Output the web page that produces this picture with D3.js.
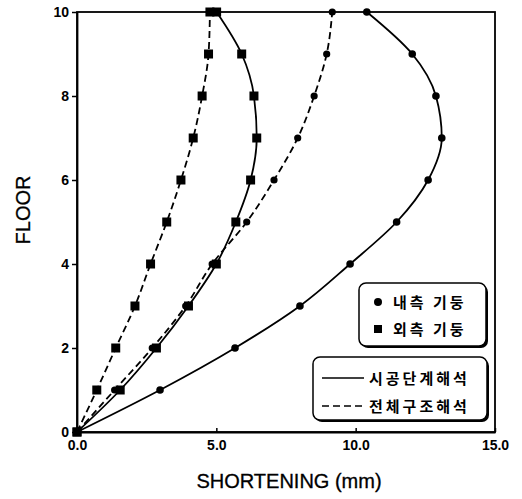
<!DOCTYPE html>
<html>
<head>
<meta charset="utf-8">
<script src="https://cdn.jsdelivr.net/npm/d3@7"></script>
<style>
  body { margin: 0; background: #fff; }
  svg { display: block; }
</style>
</head>
<body>
<div id="chart"></div>
<script>
// floors 0..10
const floors = [0, 1, 2, 3, 4, 5, 6, 7, 8, 9, 10];

// shortening (mm) per floor
const innerStage = [0, 2.98, 5.67, 8.0, 9.8, 11.47, 12.6, 13.09, 12.88, 12.03, 10.4];
const innerFull  = [0, 1.35, 2.7, 3.9, 4.85, 6.09, 7.07, 7.92, 8.51, 8.96, 9.16];
const outerStage = [0, 1.55, 2.85, 4.0, 5.0, 5.7, 6.23, 6.45, 6.35, 5.91, 5.01];
const outerFull  = [0, 0.71, 1.39, 2.08, 2.64, 3.22, 3.73, 4.17, 4.49, 4.72, 4.77];

const xTicks = [0, 5, 10, 15];
const yTicks = [0, 2, 4, 6, 8, 10];

const markerLabels = ["내측 기둥", "외측 기둥"];
const lineLabels = ["시공단계해석", "전체구조해석"];

const width = 522, height = 499;
const margin = { left: 77, right: 27, top: 12, bottom: 67 };

const svg = d3.select("#chart").append("svg")
    .attr("width", width)
    .attr("height", height);

const x = d3.scaleLinear().domain([0, 15]).range([margin.left, width - margin.right]);
const y = d3.scaleLinear().domain([0, 10]).range([height - margin.bottom, margin.top]);

// frame
svg.append("rect")
    .attr("x", x(0)).attr("y", y(10))
    .attr("width", x(15) - x(0)).attr("height", y(0) - y(10))
    .attr("fill", "none").attr("stroke", "#000").attr("stroke-width", 1.8);

// axes
const xAxis = svg.append("g")
    .attr("transform", `translate(0,${y(0)})`)
    .call(d3.axisBottom(x).tickValues(xTicks).tickFormat(d3.format(".1f")).tickSizeInner(-4).tickSizeOuter(0).tickPadding(8));
const yAxis = svg.append("g")
    .attr("transform", `translate(${x(0)},0)`)
    .call(d3.axisLeft(y).tickValues(yTicks).tickSizeInner(5).tickSizeOuter(0).tickPadding(3));

[xAxis, yAxis].forEach(g => {
    g.select(".domain").attr("stroke-width", 1.8);
    g.selectAll(".tick line").attr("stroke-width", 1.5);
    g.selectAll("text")
        .attr("font-family", "Liberation Sans, Arial, sans-serif")
        .attr("font-size", 14)
        .attr("font-weight", "bold")
        .attr("fill", "#000");
});

// axis titles
svg.append("text")
    .attr("x", (x(0) + x(15)) / 2 + 3).attr("y", 488)
    .attr("text-anchor", "middle")
    .attr("font-family", "Liberation Sans, Arial, sans-serif")
    .attr("font-size", 20)
    .attr("stroke", "#000").attr("stroke-width", 0.3)
    .text("SHORTENING (mm)");

svg.append("text")
    .attr("transform", "translate(30,210) rotate(-90)")
    .attr("text-anchor", "middle")
    .attr("font-family", "Liberation Sans, Arial, sans-serif")
    .attr("font-size", 20)
    .attr("stroke", "#000").attr("stroke-width", 0.3)
    .text("FLOOR");

// series
const series = [
    { values: innerStage, dashed: false, marker: "circle", r: 3.8 },
    { values: innerFull,  dashed: true,  marker: "circle", r: 3.6 },
    { values: outerStage, dashed: false, marker: "square", r: 4.5 },
    { values: outerFull,  dashed: true,  marker: "square", r: 4.5 }
];

const line = d3.line()
    .x(d => x(d.v))
    .y(d => y(d.f))
    .curve(d3.curveMonotoneY);

series.forEach(s => {
    const pts = floors.map((f, i) => ({ f: f, v: s.values[i] }));
    svg.append("path")
        .datum(pts)
        .attr("d", line)
        .attr("fill", "none")
        .attr("stroke", "#000")
        .attr("stroke-width", 1.8)
        .attr("stroke-dasharray", s.dashed ? "7,4" : null);

    if (s.marker === "circle") {
        svg.append("g").selectAll("circle")
            .data(pts)
            .join("circle")
            .attr("cx", d => x(d.v))
            .attr("cy", d => y(d.f))
            .attr("r", s.r)
            .attr("fill", "#000");
    } else {
        svg.append("g").selectAll("rect")
            .data(pts)
            .join("rect")
            .attr("x", d => x(d.v) - s.r)
            .attr("y", d => y(d.f) - s.r)
            .attr("width", s.r * 2)
            .attr("height", s.r * 2)
            .attr("fill", "#000");
    }
});

// legend boxes
function legendBox(bx, by, bw, bh) {
    svg.append("rect")
        .attr("x", bx + 2).attr("y", by + 2)
        .attr("width", bw).attr("height", bh)
        .attr("rx", 7)
        .attr("fill", "#000");
    svg.append("rect")
        .attr("x", bx).attr("y", by)
        .attr("width", bw).attr("height", bh)
        .attr("rx", 7)
        .attr("fill", "#fff")
        .attr("stroke", "#000")
        .attr("stroke-width", 1.5);
}

const korFont = "Noto Sans CJK KR, sans-serif";

legendBox(359, 283, 127, 63);
svg.append("circle").attr("cx", 378).attr("cy", 302).attr("r", 4).attr("fill", "#000");
svg.append("rect").attr("x", 374).attr("y", 325).attr("width", 8).attr("height", 8).attr("fill", "#000");
markerLabels.forEach((t, i) => {
    svg.append("text")
        .attr("x", 393).attr("y", 308 + i * 27)
        .attr("font-family", korFont)
        .attr("font-size", 15)
        .attr("font-weight", "bold")
        .attr("letter-spacing", 3)
        .text(t);
});

legendBox(313, 357, 174, 63);
[false, true].forEach((dashed, i) => {
    svg.append("line")
        .attr("x1", 322).attr("x2", 364)
        .attr("y1", 378 + i * 28).attr("y2", 378 + i * 28)
        .attr("stroke", "#000")
        .attr("stroke-width", 1.5)
        .attr("stroke-dasharray", dashed ? "7,4" : null);
    svg.append("text")
        .attr("x", 369).attr("y", 384 + i * 28)
        .attr("font-family", korFont)
        .attr("font-size", 15)
        .attr("font-weight", "bold")
        .attr("letter-spacing", 3)
        .text(lineLabels[i]);
});
</script>
</body>
</html>
